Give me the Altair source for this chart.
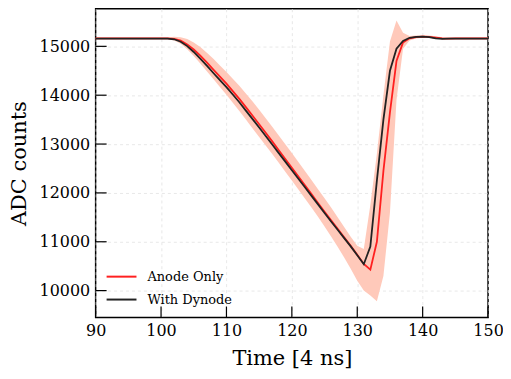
import altair as alt
import pandas as pd

time = list(range(90, 151))

anode_only = [15165] * 12 + [
    15155, 15120, 15040, 14935, 14810, 14670, 14525, 14380, 14235, 14080,
    13920, 13750, 13580, 13405, 13230, 13055, 12875, 12695, 12515, 12335,
    12155, 11975, 11795, 11615, 11440, 11265, 11090, 10915, 10735, 10545,
    10430, 11000, 12450, 13650, 14700, 15080, 15165, 15190, 15200, 15195,
    15180, 15165, 15160] + [15165] * 6

with_dynode = [15160] * 12 + [
    15145, 15095, 15005, 14885, 14750, 14605, 14455, 14310, 14165, 14010,
    13850, 13680, 13510, 13340, 13165, 12990, 12815, 12640, 12465, 12290,
    12115, 11940, 11765, 11590, 11415, 11245, 11075, 10905, 10725, 10540,
    10900, 12250, 13500, 14500, 14950, 15110, 15175, 15195, 15200, 15190,
    15165, 15155, 15160] + [15160] * 6

band_lo = [15150] * 12 + [
    15120, 15055, 14940, 14800, 14650, 14490, 14330, 14170, 14010, 13840,
    13670, 13495, 13320, 13145, 12970, 12795, 12615, 12435, 12255, 12070,
    11885, 11700, 11510, 11310, 11110, 10900, 10680, 10450, 10200, 10000,
    9900, 9780, 10300, 11600, 13900, 14950, 15120, 15160, 15175, 15170,
    15155, 15145, 15145] + [15145] * 6

band_hi = [15180] * 12 + [
    15195, 15185, 15150, 15080, 14985, 14870, 14745, 14610, 14475, 14330,
    14190, 14030, 13870, 13700, 13530, 13355, 13175, 12995, 12815, 12635,
    12450, 12265, 12075, 11890, 11700, 11500, 11300, 11100, 10920, 10850,
    11750, 12800, 14000, 15100, 15530, 15280, 15210, 15220, 15225, 15220,
    15205, 15185, 15180] + [15180] * 6

series_names = ["Anode Only", "With Dynode"]
series_colors = ["#ff2020", "#222222"]
x_ticks = [90, 100, 110, 120, 130, 140, 150]
y_ticks = [10000, 11000, 12000, 13000, 14000, 15000]

W, H = 394, 310
FONT = "DejaVu Serif"

band_df = pd.DataFrame({"t": time, "lo": band_lo, "hi": band_hi})
lines_df = pd.concat([
    pd.DataFrame({"t": time, "v": anode_only, "series": series_names[0], "order": 0}),
    pd.DataFrame({"t": time, "v": with_dynode, "series": series_names[1], "order": 1}),
])

xscale = alt.Scale(domain=[90, 150], nice=False, zero=False)
yscale = alt.Scale(domain=[9450, 15770], nice=False, zero=False)

xaxis = alt.Axis(values=x_ticks, title="Time [4 ns]", tickSize=0, labelPadding=5,
                 grid=True, gridDash=[3, 3], gridColor="#e2e2e2", gridWidth=0.8,
                 domain=False, labelFont=FONT, labelFontSize=16, labelColor="#000",
                 titleFont=FONT, titleFontSize=21, titleFontWeight="normal",
                 titleColor="#000", titlePadding=9, labelFlush=False)
yaxis = alt.Axis(values=y_ticks, title="ADC counts", tickSize=0, labelPadding=6,
                 grid=True, gridDash=[3, 3], gridColor="#e2e2e2", gridWidth=0.8,
                 domain=False, labelFont=FONT, labelFontSize=16, labelColor="#000",
                 titleFont=FONT, titleFontSize=21, titleFontWeight="normal",
                 titleColor="#000", titlePadding=10, format="d")

band = alt.Chart(band_df).mark_area(color="#ffc9ba", opacity=1).encode(
    x=alt.X("t:Q", scale=xscale, axis=xaxis),
    y=alt.Y("lo:Q", scale=yscale, axis=yaxis),
    y2="hi:Q",
)

lines = alt.Chart(lines_df).mark_line(strokeWidth=1.8).encode(
    x=alt.X("t:Q", scale=xscale),
    y=alt.Y("v:Q", scale=yscale),
    color=alt.Color("series:N",
                    scale=alt.Scale(domain=series_names, range=series_colors),
                    legend=alt.Legend(title=None, orient="none", legendX=10, legendY=253,
                                      symbolType="stroke", symbolSize=900,
                                      symbolStrokeWidth=2, labelFont=FONT,
                                      labelFontSize=13, labelColor="#000",
                                      rowPadding=0, labelOffset=10)),
    order="order:Q",
)

xt = alt.Chart(pd.DataFrame({"t": x_ticks})).mark_rule(color="#000", strokeWidth=1.2).encode(
    x=alt.X("t:Q", scale=xscale), y=alt.value(H), y2=alt.value(H - 11))
yt = alt.Chart(pd.DataFrame({"v": y_ticks})).mark_rule(color="#000", strokeWidth=1.2).encode(
    y=alt.Y("v:Q", scale=yscale), x=alt.value(0), x2=alt.value(11))

chart = alt.layer(band, lines, xt, yt).properties(
    width=W, height=H,
    background="white",
    autosize=alt.AutoSizeParams(type="none"),
    padding={"left": 88, "top": 0, "right": 15, "bottom": 53},
).configure_view(stroke="#000", strokeWidth=1.5)

chart.save("out.html", embed_options={"renderer": "svg", "actions": False})
